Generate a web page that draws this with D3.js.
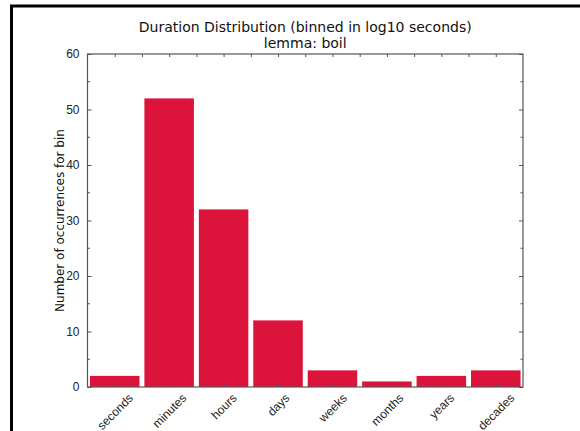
<!DOCTYPE html>
<html>
<head>
<meta charset="utf-8">
<script src="https://cdn.jsdelivr.net/npm/d3@7"></script>
<style>
  body { margin: 0; background: #fff; }
  svg { display: block; font-family: 'DejaVu Sans', sans-serif; }
</style>
</head>
<body>
<div id="chart"></div>
<script>
const categories = ['seconds', 'minutes', 'hours', 'days', 'weeks', 'months', 'years', 'decades']
const counts = [2, 52, 32, 12, 3, 1, 2, 3]
const yTicks = [0, 10, 20, 30, 40, 50, 60]
const titleLines = ['Duration Distribution (binned in log10 seconds)', 'lemma: boil']
const yLabel = 'Number of occurrences for bin'

const width = 580
const height = 431
const margin = { top: 54, right: 57, bottom: 44, left: 87.5 }
const innerWidth = width - margin.left - margin.right
const innerHeight = height - margin.top - margin.bottom

const svg = d3.select('#chart').append('svg')
  .attr('width', width)
  .attr('height', height)

// outer black frame (partly outside the window)
svg.append('rect')
  .attr('x', 11.5)
  .attr('y', 6)
  .attr('width', 700)
  .attr('height', 600)
  .attr('fill', 'none')
  .attr('stroke', '#000')
  .attr('stroke-width', 3)

const g = svg.append('g')
  .attr('transform', `translate(${margin.left},${margin.top})`)

// x is continuous over bin index, one unit per bin
const x = d3.scaleLinear()
  .domain([0, categories.length])
  .range([0, innerWidth])

const y = d3.scaleLinear()
  .domain([0, 60])
  .range([innerHeight, 0])

// Bars
g.selectAll('.bar')
  .data(counts)
  .enter().append('rect')
  .attr('class', 'bar')
  .attr('x', (d, i) => x(i + 0.045))
  .attr('width', x(0.91) - x(0))
  .attr('y', d => y(d))
  .attr('height', d => y(0) - y(d))
  .attr('fill', '#DC143C')

const axisColor = '#555'
const tickLen = 4
const minorLen = 2.5

// Left axis (inward ticks)
g.append('g')
  .call(d3.axisLeft(y).tickValues(yTicks).tickSize(-tickLen).tickPadding(tickLen + 4))
  .call(a => a.select('.domain').remove())
  .call(a => a.selectAll('line').attr('stroke', axisColor))
  .call(a => a.selectAll('text').attr('fill', '#222').style('font-size', '12px'))

// Right axis ticks (no labels)
g.append('g')
  .attr('transform', `translate(${innerWidth},0)`)
  .call(d3.axisRight(y).tickValues(yTicks).tickSize(-tickLen).tickFormat(''))
  .call(a => a.select('.domain').remove())
  .call(a => a.selectAll('text').remove())
  .call(a => a.selectAll('line').attr('stroke', axisColor))

// Minor y ticks at 5s
const minorY = d3.range(5, 60, 10)
g.append('g').selectAll('line')
  .data(minorY)
  .enter().append('line')
  .attr('x1', 0).attr('x2', minorLen)
  .attr('y1', d => y(d)).attr('y2', d => y(d))
  .attr('stroke', axisColor)
g.append('g').selectAll('line')
  .data(minorY)
  .enter().append('line')
  .attr('x1', innerWidth).attr('x2', innerWidth - minorLen)
  .attr('y1', d => y(d)).attr('y2', d => y(d))
  .attr('stroke', axisColor)

// Bottom ticks at bin centres, labels rotated 45deg and centred under the tick
const centers = categories.map((c, i) => i + 0.5)
const xAxis = g.append('g')
  .attr('transform', `translate(0,${innerHeight})`)
  .call(d3.axisBottom(x).tickValues(centers).tickSize(-tickLen).tickFormat((d, i) => categories[i]))
xAxis.select('.domain').remove()
xAxis.selectAll('line').attr('stroke', axisColor)
xAxis.selectAll('text')
  .attr('fill', '#222')
  .style('font-size', '12px')
  .attr('text-anchor', 'middle')
  .attr('dominant-baseline', 'central')
  .attr('dy', null)
  .attr('y', 0)
  .attr('transform', function () {
    const w = this.getComputedTextLength()
    const h = 14
    const half = (w + h) * Math.SQRT1_2 / 2
    return `translate(0,${4 + half}) rotate(-45)`
  })

// Top ticks every half bin (no labels)
const topTicks = d3.range(1, categories.length * 2).map(k => k / 2)
g.append('g')
  .call(d3.axisTop(x).tickValues(topTicks).tickSize(-minorLen - 0.5).tickFormat(''))
  .call(a => a.select('.domain').remove())
  .call(a => a.selectAll('text').remove())
  .call(a => a.selectAll('line').attr('stroke', axisColor))

// Plot frame
g.append('rect')
  .attr('width', innerWidth)
  .attr('height', innerHeight)
  .attr('fill', 'none')
  .attr('stroke', axisColor)
  .attr('stroke-width', 1.2)

// Title
svg.append('g')
  .selectAll('text')
  .data(titleLines)
  .enter().append('text')
  .attr('x', margin.left + innerWidth / 2)
  .attr('y', (d, i) => 32 + i * 16)
  .attr('text-anchor', 'middle')
  .attr('fill', '#111')
  .style('font-size', '14px')
  .text(d => d)

// Y label
svg.append('text')
  .attr('transform', `translate(64,${margin.top + innerHeight / 2}) rotate(-90)`)
  .attr('text-anchor', 'middle')
  .attr('fill', '#111')
  .style('font-size', '12px')
  .text(yLabel)
</script>
</body>
</html>
